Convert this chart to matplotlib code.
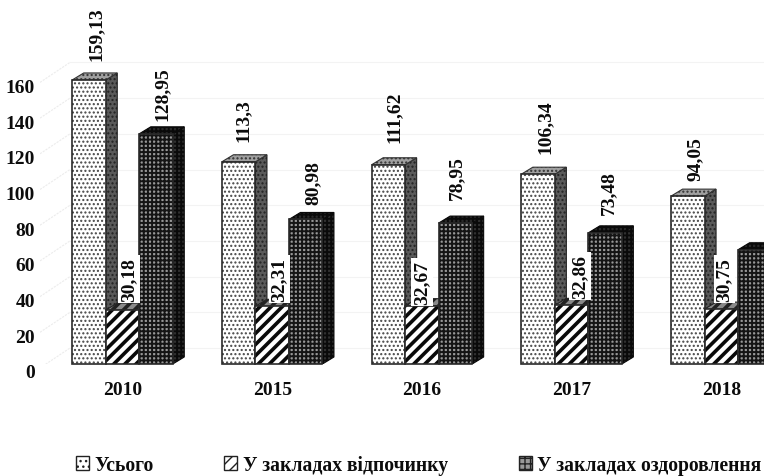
import matplotlib
matplotlib.use("Agg")
import matplotlib.pyplot as plt
from matplotlib.patches import Polygon, Patch
from matplotlib.transforms import ScaledTranslation

plt.rcParams['font.family'] = ['Liberation Serif', 'DejaVu Serif']
plt.rcParams['font.weight'] = 'bold'
plt.rcParams['hatch.linewidth'] = 1.0

years = ['2010', '2015', '2016', '2017', '2018']
total = [159.13, 113.3, 111.62, 106.34, 94.05]
rest = [30.18, 32.31, 32.67, 32.86, 30.75]
health = [128.95, 80.98, 78.95, 73.48, 64.0]
total_lbl = ['159,13', '113,3', '111,62', '106,34', '94,05']
rest_lbl = ['30,18', '32,31', '32,67', '32,86', '30,75']
health_lbl = ['128,95', '80,98', '78,95', '73,48', '']
names = ['Усього', 'У закладах відпочинку', 'У закладах оздоровлення']
yticks = [0, 20, 40, 60, 80, 100, 120, 140, 160]

# hand placement of the value labels, in pixels (gap above the bar's back edge, shift from group centre)
total_gap = [13, 14, 16, 14, 9]
total_dx = [-26.5, -29, -28, -26.5, -26]
rest_gap = [2, -2, -5, 0, 1]
rest_dx = [6.5, 7, 0, 8.5, 3]
health_gap = [7, 8, 17, 12, 0]
health_dx = [39.5, 41, 35, 37, 0]

W, H = 764, 477
PX_X = 149.7      # px per group
PX_Y = 1.785      # px per unit
FS = 14
TXT = '#0c0c0c'
fig = plt.figure(figsize=(W/100, H/100), dpi=100, facecolor='white')
ax = fig.add_axes([40/W, (H-365)/H, (W-40)/W, 365/H])
ax.set_xlim((40-122.5)/PX_X, (W-122.5)/PX_X)
ax.set_ylim(0, 365/PX_Y)
for s in ax.spines.values():
    s.set_visible(False)

bw = 33.5/PX_X
dx = 11.5/PX_X
dy = 7/PX_Y

# back-wall gridlines
goff = 16/PX_Y
for v in yticks:
    ax.plot([(70-122.5)/PX_X, 5], [v+goff]*2, color='#f3f3f3', lw=0.8, zorder=1)
    ax.plot([(40-122.5)/PX_X, (70-122.5)/PX_X], [v-4/PX_Y, v+goff], color='#ececec', lw=0.8,
            ls=(0, (2, 1)), zorder=1)

styles = [
    dict(front='white', side='#5a5a5a', top='#a0a0a0', hatch='....', hc='#444444', hs='#222222', ht='#333333', hl=1.0),
    dict(front='white', side='#5a5a5a', top='#8a8a8a', hatch='///', hc='#0a0a0a', hs='#111111', ht='#222222', hl=2.6),
    dict(front='#989898', side='#303030', top='#2a2a2a', hatch='++++', hc='#141414', hs='#0a0a0a', ht='#0a0a0a', hl=1.4),
]
series = [total, rest, health]

def set_hl(p, lw):
    if hasattr(p, 'set_hatch_linewidth'):
        p.set_hatch_linewidth(lw)

def draw(x0, v, st, z):
    a = ax.add_patch(Polygon([(x0+bw, 0), (x0+bw+dx, dy), (x0+bw+dx, v+dy), (x0+bw, v)],
                         facecolor=st['side'], edgecolor=st['hs'], hatch=st['hatch'], lw=0.8, zorder=z))
    b = ax.add_patch(Polygon([(x0, v), (x0+dx, v+dy), (x0+bw+dx, v+dy), (x0+bw, v)],
                         facecolor=st['top'], edgecolor=st['ht'], hatch=st['hatch'], lw=0.8, zorder=z))
    c = ax.bar(x0, v, bw, align='edge', facecolor=st['front'], edgecolor=st['hc'], hatch=st['hatch'], lw=0, zorder=z+0.1)[0]
    for p in (a, b, c):
        set_hl(p, st['hl'])
    d = ax.bar(x0, v, bw, align='edge', fill=False, edgecolor='#2a2a2a', lw=1.2, zorder=z+0.2)[0]
    d.set_clip_on(False)

for i in range(len(years)):
    for j, vals in enumerate(series):
        draw(i + (j-1.5)*bw, vals[i], styles[j], 3 + j)

# value labels
for i in range(len(years)):
    ax.text(i + total_dx[i]/PX_X, total[i] + dy + total_gap[i]/PX_Y, total_lbl[i], rotation=90,
            ha='center', va='bottom', fontsize=FS, fontweight='bold', zorder=10, color=TXT)
    ax.text(i + rest_dx[i]/PX_X, rest[i] + dy + rest_gap[i]/PX_Y, rest_lbl[i], rotation=90,
            ha='center', va='bottom', fontsize=FS, fontweight='bold', zorder=10, color=TXT,
            bbox=dict(facecolor='white', edgecolor='none', pad=1.5))
    if health_lbl[i]:
        ax.text(i + health_dx[i]/PX_X, health[i] + dy + health_gap[i]/PX_Y, health_lbl[i], rotation=90,
                ha='center', va='bottom', fontsize=FS, fontweight='bold', zorder=10, color=TXT)

# axes text
ax.set_xticks(range(len(years)))
ax.set_xticklabels(years, fontsize=FS, fontweight='bold', color=TXT)
ax.tick_params(axis='x', length=0, pad=12)
ax.set_yticks(yticks)
ax.set_yticklabels([str(v) for v in yticks], fontsize=FS, fontweight='bold', color=TXT)
ax.tick_params(axis='y', length=0, pad=3.5)
off = ScaledTranslation(0, -7/100, fig.dpi_scale_trans)
for lab in ax.get_yticklabels():
    lab.set_transform(lab.get_transform() + off)

handles = [Patch(facecolor=s['front'], edgecolor='#222222', hatch=h) for s, h in zip(styles, ['...', '///', '+++'])]
leg = fig.legend(handles, names, ncols=3, loc='center left', bbox_to_anchor=(76/W, 1-466/H), frameon=False,
           fontsize=14.15, handlelength=0.66, handleheight=0.66, handletextpad=0.28, columnspacing=3.6,
           borderpad=0, borderaxespad=0)
for t in leg.get_texts():
    t.set_color(TXT)
fig.savefig('out.png', dpi=100, facecolor='white')
